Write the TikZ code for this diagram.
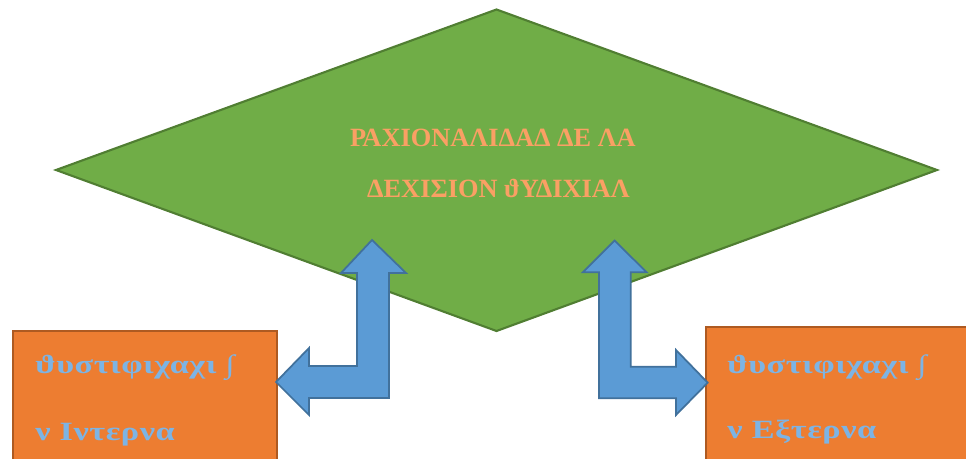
\documentclass[tikz,border=0pt]{standalone}
\usepackage{fontspec}
\setmainfont{Liberation Serif}
\newfontfamily\widegreek[FakeStretch=1.3, LetterSpace=2]{Liberation Serif}
\usetikzlibrary{positioning}

\definecolor{leafgreen}{RGB}{112,173,71}
\definecolor{leafedge}{RGB}{80,126,50}
\definecolor{boxorange}{RGB}{237,125,49}
\definecolor{boxedge}{RGB}{174,90,33}
\definecolor{arrowblue}{RGB}{91,155,213}
\definecolor{arrowedge}{RGB}{65,113,156}
\definecolor{textorange}{RGB}{250,160,100}
\definecolor{textblue}{RGB}{125,180,228}

\tikzset{
  decision/.style={fill=leafgreen, draw=leafedge, line width=1.2pt, line join=miter},
  justbox/.style={fill=boxorange, draw=boxedge, line width=1.2pt},
  bendarrow/.style={fill=arrowblue, draw=arrowedge, line width=1pt, line join=miter},
  titletext/.style={text=textorange, font=\bfseries\fontsize{15}{17}\selectfont, inner sep=0pt},
  boxtext/.style={text=textblue, font=\widegreek\bfseries\fontsize{15}{17}\selectfont, inner sep=0pt, anchor=base west}
}

\begin{document}
\begin{tikzpicture}[x=0.02cm,y=-0.02cm]
  \useasboundingbox (0,0) rectangle (966,459);
  \clip (0,0) rectangle (966,459);

  % big diamond
  \coordinate (T) at (496.5,9.5);
  \coordinate (R) at (937,170);
  \coordinate (B) at (496.5,331);
  \coordinate (L) at (56,170);
  \filldraw[decision] (T) -- (R) -- (B) -- (L) -- cycle;
  \node[titletext, anchor=base] (title1) at (493,147) {ΡΑΧΙΟΝΑΛΙΔΑΔ ΔΕ ΛΑ};
  \node[titletext, anchor=base] (title2) at (498.5,197) {ΔΕΧΙΣΙΟΝ ϑΥΔΙΧΙΑΛ};

  % boxes
  \filldraw[justbox] (12.7,331) rectangle (277,490);
  \filldraw[justbox] (706,327) rectangle (990,490);
  \node[boxtext] (int1) at (35,373) {ϑυστιφιχαχι ∫};
  \node[boxtext] (int2) at (35,440) {ν Ιντερνα};
  \node[boxtext] (ext1) at (727,373) {ϑυστιφιχαχι ∫};
  \node[boxtext] (ext2) at (727,438) {ν Εξτερνα};

  % left arrow
  \filldraw[bendarrow] (372,240) -- (406,273) -- (389,273) -- (389,398)
    -- (309,398) -- (309,415) -- (276,382) -- (309,348) -- (309,366)
    -- (357,366) -- (357,273) -- (341,273) -- cycle;

  % right arrow
  \filldraw[bendarrow] (614.5,240.5) -- (646.7,272.3) -- (630.7,272.3)
    -- (630.7,366.7) -- (676,366.7) -- (676,350) -- (707.7,382.7)
    -- (676,415) -- (676,398.3) -- (599,398.3) -- (599,272.3)
    -- (582.7,272.3) -- cycle;
\end{tikzpicture}
\end{document}
